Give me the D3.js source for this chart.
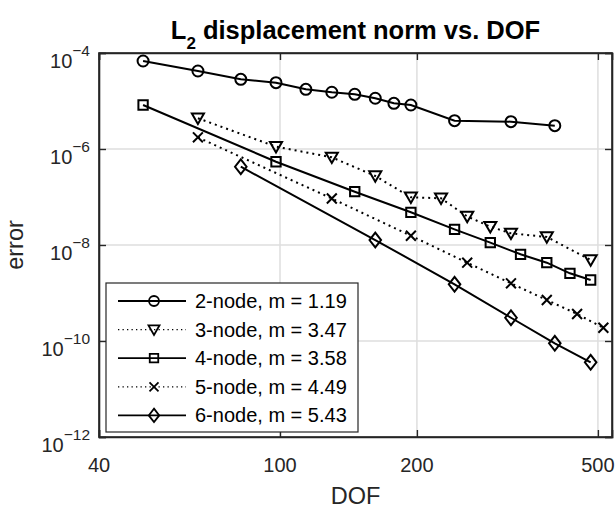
<!DOCTYPE html>
<html>
<head>
<meta charset="utf-8">
<script src="https://cdn.jsdelivr.net/npm/d3@7"></script>
<style>
  body { margin: 0; background: #fff; }
  svg { display: block; font-family: Arial, "Liberation Sans", Helvetica, sans-serif; }
</style>
</head>
<body>
<div id="chart"></div>
<script>
// Data (DOF vs. L2 displacement error)
var dof2 = [50, 66, 82, 98, 114, 130, 146, 162, 178, 194, 242, 322, 402];
var err2 = [6.81e-5, 4.22e-5, 2.83e-5, 2.41e-5, 1.75e-5, 1.52e-5, 1.38e-5, 1.14e-5, 8.95e-6, 8.26e-6, 3.89e-6, 3.71e-6, 3.06e-6];

var dof3 = [66, 98, 130, 162, 194, 226, 258, 290, 322, 386, 482];
var err3 = [4.37e-6, 1.12e-6, 6.71e-7, 2.74e-7, 9.86e-8, 9.4e-8, 3.93e-8, 2.41e-8, 1.75e-8, 1.47e-8, 4.87e-9];

var dof4 = [50, 98, 146, 194, 242, 290, 338, 386, 434, 482];
var err4 = [8.26e-6, 5.43e-7, 1.29e-7, 4.8e-8, 2.12e-8, 1.12e-8, 6.4e-9, 4.28e-9, 2.57e-9, 1.87e-9];

var dof5 = [66, 130, 194, 258, 322, 386, 450, 514];
var err5 = [1.75e-6, 9.3e-8, 1.56e-8, 4.28e-9, 1.59e-9, 7.15e-10, 3.65e-10, 1.89e-10];

var dof6 = [82, 162, 242, 322, 402, 482];
var err6 = [4.27e-7, 1.27e-8, 1.52e-9, 3.05e-10, 8.95e-11, 3.6e-11];

var seriesNames = ['2-node, m = 1.19', '3-node, m = 3.47', '4-node, m = 3.58', '5-node, m = 4.49', '6-node, m = 5.43'];
var seriesMarkers = ['circle', 'triangleDown', 'square', 'x', 'diamond'];
var seriesDotted = [false, true, false, true, false];

var xTicks = [40, 100, 200, 500];
var yTicks = [1e-12, 1e-10, 1e-8, 1e-6, 1e-4];
var yExponents = ['\u221212', '\u221210', '\u22128', '\u22126', '\u22124'];

var allSeries = [
    { x: dof2, y: err2 },
    { x: dof3, y: err3 },
    { x: dof4, y: err4 },
    { x: dof5, y: err5 },
    { x: dof6, y: err6 }
];

var width = 616;
var height = 508;
var margin = { top: 53, right: 4, bottom: 71, left: 99 };
var axisColor = '#262626';

var svg = d3.select('#chart')
    .append('svg')
    .attr('width', width)
    .attr('height', height);

var x = d3.scaleLog()
    .domain([40, 537])
    .range([margin.left, width - margin.right]);

var y = d3.scaleLog()
    .domain([1e-12, 1e-4])
    .range([height - margin.bottom, margin.top]);

var plotW = width - margin.right - margin.left;
var plotH = height - margin.bottom - margin.top;

// Marker path for a given kind, centered at 0,0 (s = overall size)
function markerPath(kind, s) {
    var h = s / 2;
    var p = d3.path();
    if (kind === 'circle') {
        p.moveTo(h, 0);
        p.arc(0, 0, h, 0, 2 * Math.PI);
    } else if (kind === 'triangleDown') {
        p.moveTo(-h * 1.1, -h * 0.85);
        p.lineTo(h * 1.1, -h * 0.85);
        p.lineTo(0, h * 1.05);
        p.closePath();
    } else if (kind === 'square') {
        var q = h * 0.85;
        p.rect(-q, -q, 2 * q, 2 * q);
    } else if (kind === 'x') {
        var r = h * 0.9;
        p.moveTo(-r, -r); p.lineTo(r, r);
        p.moveTo(-r, r); p.lineTo(r, -r);
    } else if (kind === 'diamond') {
        p.moveTo(0, -h * 1.35);
        p.lineTo(h * 1.05, 0);
        p.lineTo(0, h * 1.35);
        p.lineTo(-h * 1.05, 0);
        p.closePath();
    }
    return p.toString();
}

// Grid lines
var grid = svg.append('g').attr('class', 'grid');
grid.selectAll('line.gx')
    .data(xTicks)
    .join('line')
    .attr('x1', d => x(d)).attr('x2', d => x(d))
    .attr('y1', margin.top).attr('y2', margin.top + plotH)
    .attr('stroke', '#dedede')
    .attr('stroke-width', 1.5);
grid.selectAll('line.gy')
    .data(yTicks)
    .join('line')
    .attr('x1', margin.left).attr('x2', margin.left + plotW)
    .attr('y1', d => y(d)).attr('y2', d => y(d))
    .attr('stroke', '#dedede')
    .attr('stroke-width', 1.5);

// Axes with inward ticks on all four sides
var xAxis = g => g
    .attr('transform', `translate(0, ${margin.top + plotH})`)
    .call(d3.axisBottom(x).tickValues(xTicks).tickSize(-7).tickFormat(''));
var xAxisTop = g => g
    .attr('transform', `translate(0, ${margin.top})`)
    .call(d3.axisTop(x).tickValues(xTicks).tickSize(-7).tickFormat(''));
var yAxis = g => g
    .attr('transform', `translate(${margin.left}, 0)`)
    .call(d3.axisLeft(y).tickValues(yTicks).tickSize(-7).tickFormat(''));
var yAxisRight = g => g
    .attr('transform', `translate(${margin.left + plotW}, 0)`)
    .call(d3.axisRight(y).tickValues(yTicks).tickSize(-7).tickFormat(''));

[xAxis, xAxisTop, yAxis, yAxisRight].forEach(function(ax) {
    var g = svg.append('g').call(ax);
    g.select('.domain').attr('stroke', axisColor).attr('stroke-width', 1.6);
    g.selectAll('.tick line').attr('stroke', axisColor).attr('stroke-width', 1.4);
});

// x tick labels
svg.append('g')
    .selectAll('text')
    .data(xTicks)
    .join('text')
    .attr('x', d => x(d))
    .attr('y', margin.top + plotH + 35)
    .attr('text-anchor', 'middle')
    .attr('fill', axisColor)
    .attr('font-size', '20px')
    .text(d => d);

// y tick labels as 10 with superscript exponent
var yLab = svg.append('g');
yTicks.forEach(function(t, i) {
    var txt = yLab.append('text')
        .attr('x', margin.left - 9)
        .attr('y', y(t) + 14.5)
        .attr('text-anchor', 'end')
        .attr('fill', axisColor)
        .attr('font-size', '20px');
    txt.append('tspan').text('10');
    txt.append('tspan')
        .attr('font-size', '15.5px')
        .attr('dy', -11.5)
        .text(yExponents[i]);
});

// Lines and markers
var line = d3.line()
    .x(d => x(d[0]))
    .y(d => y(d[1]));

allSeries.forEach(function(s, i) {
    var pts = s.x.map((v, k) => [v, s.y[k]]);
    svg.append('path')
        .datum(pts)
        .attr('fill', 'none')
        .attr('stroke', '#000')
        .attr('stroke-width', 2)
        .attr('stroke-dasharray', seriesDotted[i] ? '2,4' : null)
        .attr('d', line);
    svg.append('g')
        .selectAll('path')
        .data(pts)
        .join('path')
        .attr('transform', d => `translate(${x(d[0])},${y(d[1])})`)
        .attr('d', markerPath(seriesMarkers[i], 11))
        .attr('fill', 'none')
        .attr('stroke', '#000')
        .attr('stroke-width', 2);
});

// Redraw axis box on top
svg.append('rect')
    .attr('x', margin.left).attr('y', margin.top)
    .attr('width', plotW).attr('height', plotH)
    .attr('fill', 'none')
    .attr('stroke', axisColor)
    .attr('stroke-width', 1.6);

// Legend
var legend = svg.append('g');
legend.append('rect')
    .attr('x', 106).attr('y', 283)
    .attr('width', 252).attr('height', 149)
    .attr('fill', '#fff')
    .attr('stroke', axisColor)
    .attr('stroke-width', 1.2);

seriesNames.forEach(function(name, i) {
    var cy = 301 + i * 28.6;
    legend.append('line')
        .attr('x1', 118).attr('x2', 186)
        .attr('y1', cy).attr('y2', cy)
        .attr('stroke', '#000')
        .attr('stroke-width', seriesDotted[i] ? 1.3 : 1.8)
        .attr('stroke-dasharray', seriesDotted[i] ? '1.3,3.2' : null);
    legend.append('path')
        .attr('transform', `translate(154,${cy})`)
        .attr('d', markerPath(seriesMarkers[i], 10))
        .attr('fill', 'none')
        .attr('stroke', '#000')
        .attr('stroke-width', 1.8);
    legend.append('text')
        .attr('x', 195)
        .attr('y', cy + 7)
        .attr('fill', '#000')
        .attr('font-size', '20px')
        .text(name);
});

// Axis labels and title
svg.append('text')
    .attr('x', margin.left + plotW / 2)
    .attr('y', 504)
    .attr('text-anchor', 'middle')
    .attr('fill', axisColor)
    .attr('font-size', '23.5px')
    .text('DOF');

svg.append('text')
    .attr('transform', `translate(23, ${margin.top + plotH / 2}) rotate(-90)`)
    .attr('text-anchor', 'middle')
    .attr('fill', axisColor)
    .attr('font-size', '23.5px')
    .text('error');

var title = svg.append('text')
    .attr('x', margin.left + plotW / 2)
    .attr('y', 39)
    .attr('text-anchor', 'middle')
    .attr('fill', '#000')
    .attr('font-size', '25.5px')
    .attr('font-weight', 'bold');
title.append('tspan').text('L');
title.append('tspan').attr('font-size', '17px').attr('dy', 10).text('2');
title.append('tspan').attr('dy', -10).text(' displacement norm vs. DOF');
</script>
</body>
</html>
